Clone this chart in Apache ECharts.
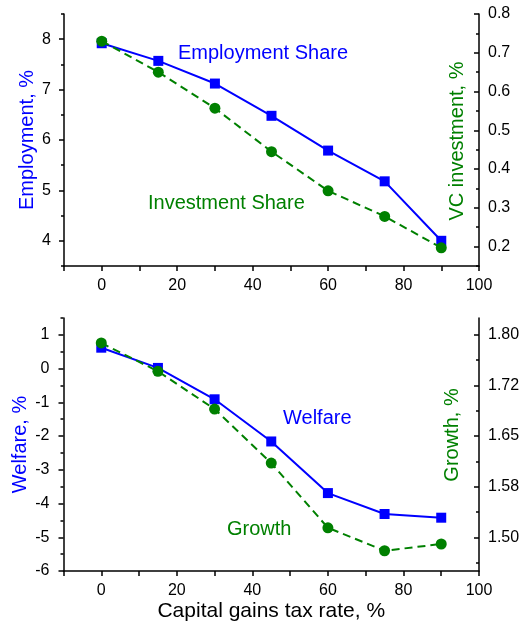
<!DOCTYPE html>
<html>
<head>
<meta charset="utf-8">
<script src="https://cdn.jsdelivr.net/npm/echarts@6/dist/echarts.min.js"></script>
<style>html,body{margin:0;padding:0;background:#fff;}#c{width:520px;height:625px;}</style>
</head>
<body>
<div id="c"></div>
<script>
// ---- data ----
const taxRate = [0, 15, 30, 45, 60, 75, 90];
const employment = [7.92, 7.57, 7.12, 6.48, 5.79, 5.18, 4.00];
const vcInvestment = [0.730, 0.650, 0.557, 0.445, 0.344, 0.278, 0.197];
const welfare = [0.62, 0.02, -0.91, -2.16, -3.69, -4.31, -4.42];
const growth = [1.788, 1.746, 1.690, 1.610, 1.514, 1.480, 1.490];

const xTickLabels = [0, 20, 40, 60, 80, 100];
const employmentTicks = [4, 5, 6, 7, 8];
const vcTicks = [0.2, 0.3, 0.4, 0.5, 0.6, 0.7, 0.8];
const welfareTicks = [-6, -5, -4, -3, -2, -1, 0, 1];
const growthTicks = [1.5, 1.575, 1.65, 1.725, 1.8];
const growthTickLabels = ["1.50", "1.58", "1.65", "1.72", "1.80"];

const FONT = "'Liberation Sans', Arial, sans-serif";
const BLUE = '#0000ff';
const GREEN = '#008000';

function steps(min, max, step) {
  const out = [];
  const n = Math.round((max - min) / step);
  for (let i = 0; i <= n; i++) out.push(+(min + i * step).toFixed(6));
  return out;
}
function pairs(xs, ys) { return xs.map((x, i) => [x, ys[i]]); }

const lineStyleAxis = { color: '#000', width: 1.5 };

function yPair(gridIndex, position, min, max, majors, minors, fmt, inside, margin) {
  return [
    {
      type: 'value', gridIndex, position, min, max,
      axisLine: { show: true, onZero: false, lineStyle: lineStyleAxis },
      axisTick: { show: true, inside, length: 5, customValues: majors, lineStyle: lineStyleAxis },
      axisLabel: { customValues: majors, formatter: fmt, margin, fontSize: 16, color: '#000', fontFamily: FONT },
      splitLine: { show: false }
    },
    {
      type: 'value', gridIndex, position, min, max,
      axisLine: { show: false, onZero: false },
      axisTick: { show: true, inside, length: 3, customValues: minors, lineStyle: lineStyleAxis },
      axisLabel: { show: false },
      splitLine: { show: false }
    }
  ];
}

function xAxisDef(gridIndex, withName) {
  const ax = {
    type: 'value', gridIndex, min: -10, max: 100, interval: 10,
    axisLine: { show: true, onZero: false, lineStyle: lineStyleAxis },
    axisTick: { show: true, length: 5, lineStyle: lineStyleAxis },
    axisLabel: {
      margin: 12, fontSize: 16, color: '#000', fontFamily: FONT,
      formatter: v => (xTickLabels.indexOf(Math.round(v)) >= 0 ? String(Math.round(v)) : '')
    },
    splitLine: { show: false }
  };
  if (withName) {
    ax.name = 'Capital gains tax rate, %';
    ax.nameLocation = 'middle';
    ax.nameGap = 30;
    ax.nameMoveOverlap = false;
    ax.nameTextStyle = { fontSize: 21, color: '#000', fontFamily: FONT };
  }
  return ax;
}

const yAxes = [].concat(
  yPair(0, 'left', 3.5, 8.5, employmentTicks, steps(3.5, 8.5, 0.5), v => String(Math.round(v)), false, 13),
  yPair(0, 'right', 0.15, 0.8, vcTicks, steps(0.15, 0.8, 0.05), v => v.toFixed(1), true, 9),
  yPair(1, 'left', -6, 1.5, welfareTicks, steps(-6, 1.5, 0.5), v => String(Math.round(v)), false, 14),
  yPair(1, 'right', 1.45, 1.825, growthTicks, [1.4625, 1.5375, 1.6125, 1.6875, 1.7625],
    v => { let bi = 0; growthTicks.forEach((t, i) => { if (Math.abs(t - v) < Math.abs(growthTicks[bi] - v)) bi = i; }); return growthTickLabels[bi]; },
    true, 9)
);
yAxes[0].name = 'Employment, %';
yAxes[0].nameLocation = 'middle';
yAxes[0].nameRotate = 90;
yAxes[0].nameGap = 27;
yAxes[0].nameMoveOverlap = false;
yAxes[0].nameTextStyle = { fontSize: 20, color: BLUE, fontFamily: FONT };
yAxes[4].name = 'Welfare, %';
yAxes[4].nameLocation = 'middle';
yAxes[4].nameRotate = 90;
yAxes[4].nameGap = 33;
yAxes[4].nameMoveOverlap = false;
yAxes[4].nameTextStyle = { fontSize: 20, color: BLUE, fontFamily: FONT };

function txt(text, x, y, color, rot, align) {
  return {
    type: 'text', x, y, rotation: rot || 0, silent: true,
    style: { text, fill: color, font: '20px ' + FONT, textAlign: align || 'left', textVerticalAlign: 'middle' }
  };
}

const option = {
  animation: false,
  backgroundColor: '#fff',
  grid: [
    { left: 64, top: 14, width: 415, height: 252, outerBoundsMode: 'none', containLabel: false },
    { left: 63.5, top: 318, width: 415.5, height: 253, outerBoundsMode: 'none', containLabel: false }
  ],
  xAxis: [xAxisDef(0, false), xAxisDef(1, true)],
  yAxis: yAxes,
  series: [
    {
      type: 'line', xAxisIndex: 0, yAxisIndex: 0, data: pairs(taxRate, employment),
      symbol: 'rect', symbolSize: 10, itemStyle: { color: BLUE }, lineStyle: { color: BLUE, width: 2 }, z: 2
    },
    {
      type: 'line', xAxisIndex: 0, yAxisIndex: 2, data: pairs(taxRate, vcInvestment),
      symbol: 'circle', symbolSize: 11, itemStyle: { color: GREEN }, lineStyle: { color: GREEN, width: 2, type: [8, 5] }, z: 3
    },
    {
      type: 'line', xAxisIndex: 1, yAxisIndex: 4, data: pairs(taxRate, welfare),
      symbol: 'rect', symbolSize: 10, itemStyle: { color: BLUE }, lineStyle: { color: BLUE, width: 2 }, z: 2
    },
    {
      type: 'line', xAxisIndex: 1, yAxisIndex: 6, data: pairs(taxRate, growth),
      symbol: 'circle', symbolSize: 11, itemStyle: { color: GREEN }, lineStyle: { color: GREEN, width: 2, type: [8, 5] }, z: 3
    }
  ],
  graphic: [
    txt('Employment Share', 178, 53, BLUE),
    txt('Investment Share', 148, 203, GREEN),
    txt('Welfare', 283, 418, BLUE),
    txt('Growth', 227, 529, GREEN),
    txt('VC investment, %', 457, 141, GREEN, Math.PI / 2, 'center'),
    txt('Growth, %', 452, 435, GREEN, Math.PI / 2, 'center')
  ]
};

const chart = echarts.init(document.getElementById('c'), null, { renderer: 'canvas' });
chart.setOption(option);
</script>
</body>
</html>
